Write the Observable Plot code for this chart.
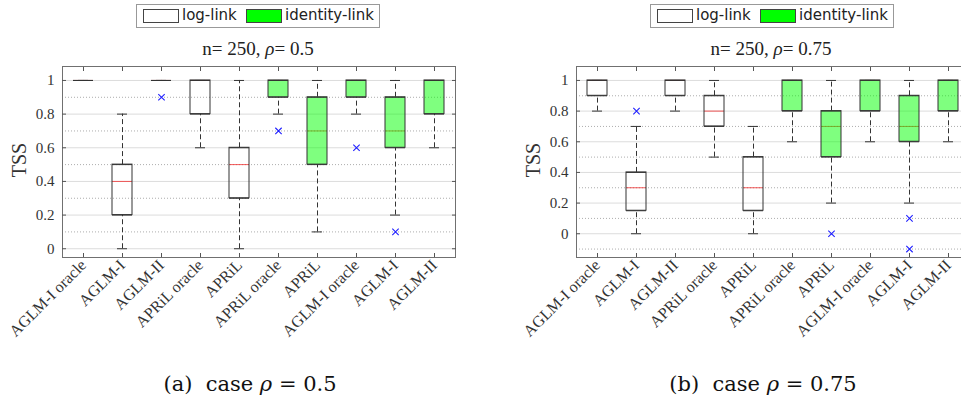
<!DOCTYPE html>
<html>
<head>
<meta charset="utf-8">
<script src="https://cdn.jsdelivr.net/npm/d3@7"></script>
<script src="https://cdn.jsdelivr.net/npm/@observablehq/plot@0.6"></script>
<style>
  html, body { margin: 0; padding: 0; background: #fff; }
  #page { position: relative; width: 961px; height: 407px; overflow: hidden; background: #fff; }
  .abs { position: absolute; }
  .legend { border: 1px solid #999; background: #fff; box-sizing: border-box; }
  .sw { position: absolute; border: 1px solid #444; box-sizing: border-box; }
  .lt { position: absolute; font-family: "DejaVu Sans", sans-serif; font-size: 15px; color: #222; line-height: 1; white-space: nowrap; }
  .title { font-family: "Liberation Serif", serif; font-size: 19px; color: #222; white-space: nowrap; transform: translateX(-50%); }
  .ylab { font-family: "Liberation Serif", serif; font-size: 20px; color: #333; white-space: nowrap; transform: translate(-50%, -50%) rotate(-90deg); }
  .caption { font-family: "DejaVu Serif", serif; font-size: 21px; color: #111; white-space: nowrap; transform: translateX(-50%); }
</style>
</head>
<body>
<div id="page"></div>
<script>
// Methods along the x axis (the first five use the log link, the last five the identity link)
const methods = ["AGLM-I oracle", "AGLM-I", "AGLM-II", "APRiL oracle", "APRiL",
                 "APRiL oracle", "APRiL", "AGLM-I oracle", "AGLM-I", "AGLM-II"];
const links = ["log", "log", "log", "log", "log",
               "identity", "identity", "identity", "identity", "identity"];

// Box-plot summaries of TSS, case rho = 0.5
const lowA  = [1, 0,   1, 0.6, 0,   0.8, 0.1, 0.8, 0.2, 0.6];
const q1A   = [1, 0.2, 1, 0.8, 0.3, 0.9, 0.5, 0.9, 0.6, 0.8];
const medA  = [1, 0.4, 1, 1,   0.5, 1,   0.7, 1,   0.7, 1];
const q3A   = [1, 0.5, 1, 1,   0.6, 1,   0.9, 1,   0.9, 1];
const highA = [1, 0.8, 1, 1,   1,   1,   1,   1,   1,   1];
const outIdxA = [2, 5, 7, 8];
const outValA = [0.9, 0.7, 0.6, 0.1];

// Box-plot summaries of TSS, case rho = 0.75
const lowB  = [0.8, 0,    0.8, 0.5, 0,    0.6, 0.2, 0.6, 0.2, 0.6];
const q1B   = [0.9, 0.15, 0.9, 0.7, 0.15, 0.8, 0.5, 0.8, 0.6, 0.8];
const medB  = [1,   0.3,  1,   0.8, 0.3,  1,   0.7, 1,   0.7, 1];
const q3B   = [1,   0.4,  1,   0.9, 0.5,  1,   0.8, 1,   0.9, 1];
const highB = [1,   0.7,  1,   1,   0.7,  1,   1,   1,   1,   1];
const outIdxB = [1, 6, 8, 8];
const outValB = [0.8, 0, 0.1, -0.1];

// Tick values
const majorTicks = [0, 0.2, 0.4, 0.6, 0.8, 1];
const minorTicksA = [0.1, 0.3, 0.5, 0.7, 0.9];
const minorTicksB = [-0.1, 0.1, 0.3, 0.5, 0.7, 0.9];

const GREEN = "#00ff00";
const EDGE = "#333";

function boxPanel({low, q1, med, q3, high, outIdx, outVal, yDomain, minorTicks, width, marginLeft, marginRight}) {
  const rows = methods.map((m, i) => ({i, method: m, link: links[i], low: low[i], q1: q1[i], med: med[i], q3: q3[i], high: high[i]}));
  const outs = outIdx.map((i, k) => ({i, v: outVal[k]}));
  return Plot.plot({
    width, height: 360,
    marginTop: 66, marginBottom: 103, marginLeft, marginRight,
    style: {fontFamily: "'Liberation Serif', serif", fontSize: "15px", color: "#333", background: "transparent", overflow: "visible"},
    x: {type: "band", domain: rows.map(d => d.i), paddingInner: 0.5, paddingOuter: 0.25, align: 0.5},
    y: {domain: yDomain},
    marks: [
      Plot.gridY(minorTicks, {stroke: "#999", strokeOpacity: 0.8, strokeDasharray: "1,2"}),
      Plot.gridY(majorTicks, {stroke: "#dcdcdc", strokeOpacity: 1}),
      // whiskers
      Plot.ruleX(rows, {x: "i", y1: "q3", y2: "high", stroke: EDGE, strokeDasharray: "5,3"}),
      Plot.ruleX(rows, {x: "i", y1: "low", y2: "q1", stroke: EDGE, strokeDasharray: "5,3"}),
      Plot.tickY(rows, {x: "i", y: "high", stroke: EDGE, insetLeft: 5, insetRight: 5}),
      Plot.tickY(rows, {x: "i", y: "low", stroke: EDGE, insetLeft: 5, insetRight: 5}),
      // median (under the translucent fill)
      Plot.tickY(rows, {x: "i", y: "med", stroke: "#f03030", strokeWidth: 0.8}),
      // boxes
      Plot.barY(rows, {filter: d => d.link === "log", x: "i", y1: "q1", y2: "q3", fill: "none", stroke: EDGE}),
      Plot.barY(rows, {filter: d => d.link === "identity", x: "i", y1: "q1", y2: "q3", fill: GREEN, fillOpacity: 0.5, stroke: EDGE}),
      Plot.tickY(rows, {x: "i", y: "q1", stroke: EDGE}),
      Plot.tickY(rows, {x: "i", y: "q3", stroke: EDGE}),
      // outliers
      Plot.dot(outs, {x: "i", y: "v", symbol: "times", stroke: "#2020ff", r: 3, strokeWidth: 1.1}),
      Plot.frame({stroke: "#707070"}),
      // axes: inward tick marks on all sides, labels outside
      Plot.axisX({anchor: "bottom", tickSize: -4, text: null, label: null, stroke: "#555"}),
      Plot.axisX({anchor: "top", tickSize: -4, text: null, label: null, stroke: "#555"}),
      Plot.axisY(majorTicks, {anchor: "left", tickSize: -4, text: null, label: null, stroke: "#555"}),
      Plot.axisY(majorTicks, {anchor: "right", tickSize: -4, text: null, label: null, stroke: "#555"}),
      Plot.axisX({anchor: "bottom", tickSize: 0, tickPadding: 5, tickRotate: -45, label: null,
                  tickFormat: i => methods[i], fontSize: 16, fill: "#333"}),
      Plot.axisY(majorTicks, {anchor: "left", tickSize: 0, tickPadding: 8, label: null,
                  tickFormat: d => d3.format("~g")(d), fontSize: 15, fill: "#333"})
    ]
  });
}

const page = document.getElementById("page");

function place(el, left, top) {
  el.classList.add("abs");
  el.style.left = left + "px";
  el.style.top = top + "px";
  page.appendChild(el);
  return el;
}

function addLegend(left) {
  const box = document.createElement("div");
  box.className = "legend";
  box.style.width = "244px";
  box.style.height = "24px";
  place(box, left, 4);
  const s1 = document.createElement("div");
  s1.className = "sw"; s1.style.cssText += "left:6px;top:4px;width:36px;height:14px;background:#fff;";
  box.appendChild(s1);
  const t1 = document.createElement("div");
  t1.className = "lt"; t1.textContent = "log-link"; t1.style.left = "45px"; t1.style.top = "3px";
  box.appendChild(t1);
  const s2 = document.createElement("div");
  s2.className = "sw"; s2.style.cssText += "left:109px;top:4px;width:36px;height:14px;background:" + GREEN + ";";
  box.appendChild(s2);
  const t2 = document.createElement("div");
  t2.className = "lt"; t2.textContent = "identity-link"; t2.style.left = "148px"; t2.style.top = "3px";
  box.appendChild(t2);
}

function addText(cls, html, left, top) {
  const el = document.createElement("div");
  el.className = cls;
  el.innerHTML = html;
  place(el, left, top);
  return el;
}

// Panel (a)
const svgA = boxPanel({low: lowA, q1: q1A, med: medA, q3: q3A, high: highA, outIdx: outIdxA, outVal: outValA,
  yDomain: [-0.052, 1.083], minorTicks: minorTicksA, width: 480, marginLeft: 62, marginRight: 25});
place(svgA, 0, 0);
// Panel (b)
const svgB = boxPanel({low: lowB, q1: q1B, med: medB, q3: q3B, high: highB, outIdx: outIdxB, outVal: outValB,
  yDomain: [-0.155, 1.091], minorTicks: minorTicksB, width: 490, marginLeft: 96, marginRight: 2});
place(svgB, 480, 0);

addLegend(136);
addLegend(650);
addText("title", "n= 250, <i>ρ</i>= 0.5", 258, 38);
addText("title", "n= 250, <i>ρ</i>= 0.75", 771, 38);
addText("ylab", "TSS", 19, 160);
addText("ylab", "TSS", 533, 160);
addText("caption", "(a)&nbsp; case <i>ρ</i> = 0.5", 250, 372);
addText("caption", "(b)&nbsp; case <i>ρ</i> = 0.75", 763, 372);
</script>
</body>
</html>
